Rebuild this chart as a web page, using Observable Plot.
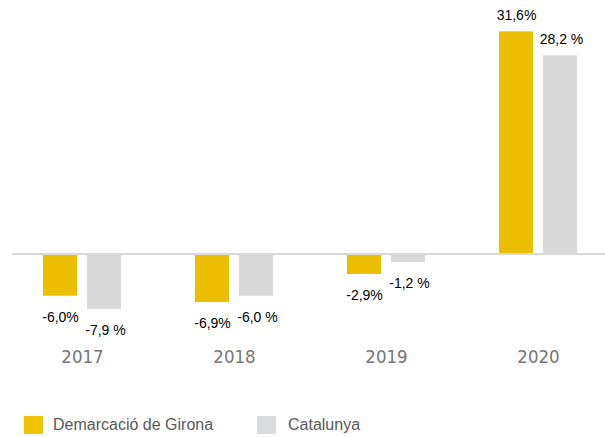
<!DOCTYPE html>
<html><head><meta charset="utf-8">
<script src="https://cdn.jsdelivr.net/npm/d3@7"></script>
<script src="https://cdn.jsdelivr.net/npm/@observablehq/plot@0.6"></script>
<style>
body{margin:0;background:#fff;}
#legend{position:relative;width:605px;height:32px;font-family:"Liberation Sans",Arial,sans-serif;font-size:16px;color:#595959;}
.sw{position:absolute;top:11px;width:19px;height:18px;}
.lt{position:absolute;top:11px;line-height:18px;}
</style></head><body><div id="chart"></div><div id="legend"></div>
<script>
const years = ["2017", "2018", "2019", "2020"];
const girona = [-6.0, -6.9, -2.9, 31.6];
const catalunya = [-7.9, -6.0, -1.2, 28.2];
const seriesNames = ["Demarcació de Girona", "Catalunya"];
const barColors = ["#ebbf00", "#d9d9d9"];
const legendColors = ["#f2c300", "#dadbdd"];

const fmtG = v => v.toFixed(1).replace(".", ",") + "%";
const fmtC = v => v.toFixed(1).replace(".", ",") + " %";
const gData = years.map((y, i) => ({year: y, value: girona[i], label: fmtG(girona[i])}));
const cData = years.map((y, i) => ({year: y, value: catalunya[i], label: fmtC(catalunya[i])}));

const off = 22;
const labelFont = "Liberation Sans, Arial, sans-serif";
function labels(data, dx) {
  return [
    Plot.text(data.filter(d => d.value >= 0), {x: "year", y: "value", text: "label", dx, dy: -16, fill: "#000", fontSize: 14, fontFamily: labelFont}),
    Plot.text(data.filter(d => d.value < 0), {x: "year", y: "value", text: "label", dx, dy: 21, fill: "#000", fontSize: 14, fontFamily: labelFont})
  ];
}

const chart = Plot.plot({
  width: 605,
  height: 405,
  marginLeft: 12,
  marginRight: 0,
  marginTop: 14.5,
  marginBottom: 67.1,
  style: {fontFamily: "'Liberation Sans Narrow', 'DejaVu Sans Condensed', sans-serif", fontSize: "18.5px", color: "#757575", background: "#fff"},
  x: {domain: years, paddingInner: 0.777, paddingOuter: 0.3428, insetRight: -3.3, tickSize: 0, tickPadding: 11, label: null},
  y: {domain: [-12, 34], axis: null},
  marks: [
    Plot.barY(gData, {x: "year", y: "value", fill: barColors[0], dx: -off}),
    Plot.barY(cData, {x: "year", y: "value", fill: barColors[1], dx: off}),
    Plot.ruleY([0], {stroke: "#d9d9d9", strokeWidth: 2}),
    ...labels(gData, -off),
    ...labels(cData, off + 1)
  ]
});
document.getElementById("chart").appendChild(chart);

const legend = document.getElementById("legend");
const lx = [[24, 53], [257, 288]];
seriesNames.forEach((name, i) => {
  const sw = document.createElement("div");
  sw.className = "sw"; sw.style.left = lx[i][0] + "px"; sw.style.background = legendColors[i];
  const t = document.createElement("div");
  t.className = "lt"; t.style.left = lx[i][1] + "px"; t.textContent = name;
  legend.appendChild(sw); legend.appendChild(t);
});
</script></body></html>
